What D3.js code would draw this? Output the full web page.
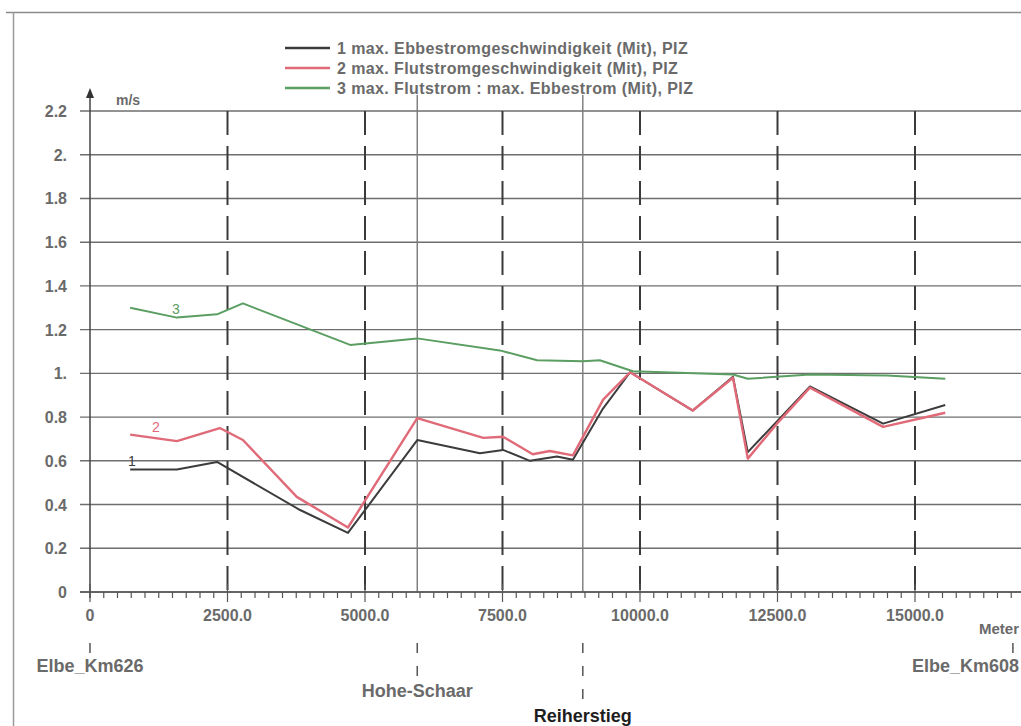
<!DOCTYPE html>
<html>
<head>
<meta charset="utf-8">
<script src="https://cdn.jsdelivr.net/npm/d3@7"></script>
<style>
  body { margin: 0; background: #fff; }
  svg { display: block; }
  text { font-family: "Liberation Sans", Arial, sans-serif; fill: #6a6a6a; }
</style>
</head>
<body>
<div id="chart"></div>
<script>
// series 1: max. Ebbestromgeschwindigkeit (m/s)
const ebbeDist = [730, 1580, 2310, 3820, 4690, 5950, 7090, 7510, 8000, 8490, 8780, 9330, 9820, 10960, 11690, 11960, 12490, 13090, 14420, 15550];
const ebbeVal  = [0.56, 0.56, 0.595, 0.375, 0.27, 0.695, 0.635, 0.65, 0.60, 0.62, 0.605, 0.84, 1.005, 0.83, 0.985, 0.64, 0.78, 0.94, 0.77, 0.855];

// series 2: max. Flutstromgeschwindigkeit (m/s)
const flutDist = [730, 1580, 2360, 2780, 3760, 4690, 5950, 7150, 7510, 8050, 8360, 8780, 9330, 9820, 10960, 11690, 11960, 12490, 13090, 14420, 15550];
const flutVal  = [0.72, 0.69, 0.75, 0.695, 0.435, 0.295, 0.795, 0.705, 0.71, 0.63, 0.645, 0.625, 0.88, 1.005, 0.83, 0.98, 0.61, 0.77, 0.935, 0.755, 0.82];

// series 3: ratio Flutstrom : Ebbestrom
const ratioDist = [730, 1580, 2310, 2780, 4730, 5950, 7450, 8130, 8960, 9270, 9870, 11690, 11960, 13090, 14490, 15550];
const ratioVal  = [1.30, 1.255, 1.27, 1.32, 1.13, 1.16, 1.105, 1.06, 1.055, 1.06, 1.01, 0.995, 0.975, 0.995, 0.99, 0.975];

const legendLabels = [
  "1 max. Ebbestromgeschwindigkeit (Mit), PIZ",
  "2 max. Flutstromgeschwindigkeit (Mit), PIZ",
  "3 max. Flutstrom : max. Ebbestrom (Mit), PIZ"
];
const seriesColors = ["#3c3c3c", "#e06a78", "#5a9e62"];

const yTicks = [0, 0.2, 0.4, 0.6, 0.8, 1.0, 1.2, 1.4, 1.6, 1.8, 2.0, 2.2];
const yTickLabels = ["0", "0.2", "0.4", "0.6", "0.8", "1.", "1.2", "1.4", "1.6", "1.8", "2.", "2.2"];
const xTicks = [0, 2500, 5000, 7500, 10000, 12500, 15000];
const xTickLabels = ["0", "2500.0", "5000.0", "7500.0", "10000.0", "12500.0", "15000.0"];

const locNames = ["Elbe_Km626", "Hohe-Schaar", "Reiherstieg", "Elbe_Km608"];
const locDist  = [0, 5950, 8960, 16780];

const W = 1021, H = 726;
const svg = d3.select("#chart").append("svg")
    .attr("width", W)
    .attr("height", H);

// frame
svg.append("line").attr("x1", 6).attr("x2", W).attr("y1", 12.5).attr("y2", 12.5)
    .attr("stroke", "#8a8a8a").attr("stroke-width", 1.5);
svg.append("line").attr("x1", 13.5).attr("x2", 13.5).attr("y1", 12).attr("y2", H)
    .attr("stroke", "#9a9a9a").attr("stroke-width", 1.5);

var x = d3.scaleLinear().domain([0, 15000]).range([90, 915]);
var y = d3.scaleLinear().domain([0, 2.2]).range([592, 111]);

// horizontal grid
svg.append("g").selectAll("line")
    .data(yTicks)
    .join("line")
    .attr("x1", 80).attr("x2", W)
    .attr("y1", d => y(d)).attr("y2", d => y(d))
    .attr("stroke", "#6e6e6e")
    .attr("stroke-width", 1.4);

// dashed verticals at major ticks
svg.append("g").selectAll("line")
    .data(xTicks.slice(1))
    .join("line")
    .attr("x1", d => x(d)).attr("x2", d => x(d))
    .attr("y1", 111).attr("y2", 592)
    .attr("stroke", "#3a3a3a")
    .attr("stroke-width", 2)
    .attr("stroke-dasharray", "24,11");

// solid verticals at the side branches
svg.append("g").selectAll("line")
    .data(locDist.slice(1, 3))
    .join("line")
    .attr("x1", d => x(d)).attr("x2", d => x(d))
    .attr("y1", 95).attr("y2", 592)
    .attr("stroke", "#7a7a7a")
    .attr("stroke-width", 1.4);

// y axis with arrow
svg.append("line").attr("x1", 90).attr("x2", 90).attr("y1", 96).attr("y2", 598)
    .attr("stroke", "#444").attr("stroke-width", 1.5);
svg.append("path").attr("d", "M90,88 L86,98 L94,98 Z").attr("fill", "#333");
svg.append("text").attr("x", 116).attr("y", 105).text("m/s")
    .style("font-size", "14px").style("font-weight", "bold");

svg.append("g").selectAll("text")
    .data(yTicks)
    .join("text")
    .attr("x", 67)
    .attr("y", d => y(d) + 6)
    .attr("text-anchor", "end")
    .style("font-size", "16px")
    .style("font-weight", "bold")
    .text((d, i) => yTickLabels[i]);

// x axis line + ticks
svg.append("line").attr("x1", 80).attr("x2", W).attr("y1", 592).attr("y2", 592)
    .attr("stroke", "#555").attr("stroke-width", 1.4);
svg.append("g").selectAll("line")
    .data(d3.range(0, 16751, 250))
    .join("line")
    .attr("x1", d => x(d)).attr("x2", d => x(d))
    .attr("y1", d => d % 2500 === 0 ? 584 : 592)
    .attr("y2", d => d % 2500 === 0 ? 602 : 598)
    .attr("stroke", "#555")
    .attr("stroke-width", 1.2);
svg.append("g").selectAll("text")
    .data(xTicks)
    .join("text")
    .attr("x", d => x(d))
    .attr("y", 621)
    .attr("text-anchor", "middle")
    .style("font-size", "16px")
    .style("font-weight", "bold")
    .text((d, i) => xTickLabels[i]);
svg.append("text").attr("x", 979).attr("y", 634).text("Meter")
    .style("font-size", "15px").style("font-weight", "bold");

// location labels under the axis
const locRowY = [672, 697, 722, 672];
const locAnchor = ["middle", "middle", "middle", "end"];
locNames.forEach((name, i) => {
    const lx = x(locDist[i]);
    svg.append("line")
        .attr("x1", lx).attr("x2", lx)
        .attr("y1", 643).attr("y2", locRowY[i] - 17)
        .attr("stroke", "#555")
        .attr("stroke-width", 1.5)
        .attr("stroke-dasharray", "10,13");
    svg.append("text")
        .attr("x", i === 3 ? 1019 : lx)
        .attr("y", locRowY[i])
        .attr("text-anchor", locAnchor[i])
        .style("font-size", "18px")
        .style("font-weight", "bold")
        .style("fill", i === 2 ? "#1e1e1e" : "#6a6a6a")
        .text(name);
});

// series lines
const line = d3.line().x(d => x(d[0])).y(d => y(d[1]));
const series = [
    d3.zip(ebbeDist, ebbeVal),
    d3.zip(flutDist, flutVal),
    d3.zip(ratioDist, ratioVal)
];
svg.append("g").selectAll("path")
    .data(series)
    .join("path")
    .attr("d", d => line(d))
    .attr("fill", "none")
    .attr("stroke", (d, i) => seriesColors[i])
    .attr("stroke-width", (d, i) => i === 1 ? 2.4 : 2)
    .attr("stroke-linejoin", "round");

// curve numbers
const curveLabelPos = [[760, 0.575], [1200, 0.73], [1560, 1.27]];
svg.append("g").selectAll("text")
    .data(curveLabelPos)
    .join("text")
    .attr("x", d => x(d[0]))
    .attr("y", d => y(d[1]))
    .attr("text-anchor", "middle")
    .style("font-size", "14px")
    .style("fill", (d, i) => seriesColors[i])
    .text((d, i) => i + 1);

// legend
const legend = svg.append("g");
legendLabels.forEach((lab, i) => {
    const ly = 48 + i * 20;
    legend.append("line")
        .attr("x1", 285).attr("x2", 330)
        .attr("y1", ly).attr("y2", ly)
        .attr("stroke", seriesColors[i])
        .attr("stroke-width", 2.5);
    legend.append("text")
        .attr("x", 337).attr("y", ly + 6)
        .style("font-size", "16px")
        .style("font-weight", "bold")
        .style("letter-spacing", "0.4px")
        .text(lab);
});
</script>
</body>
</html>
